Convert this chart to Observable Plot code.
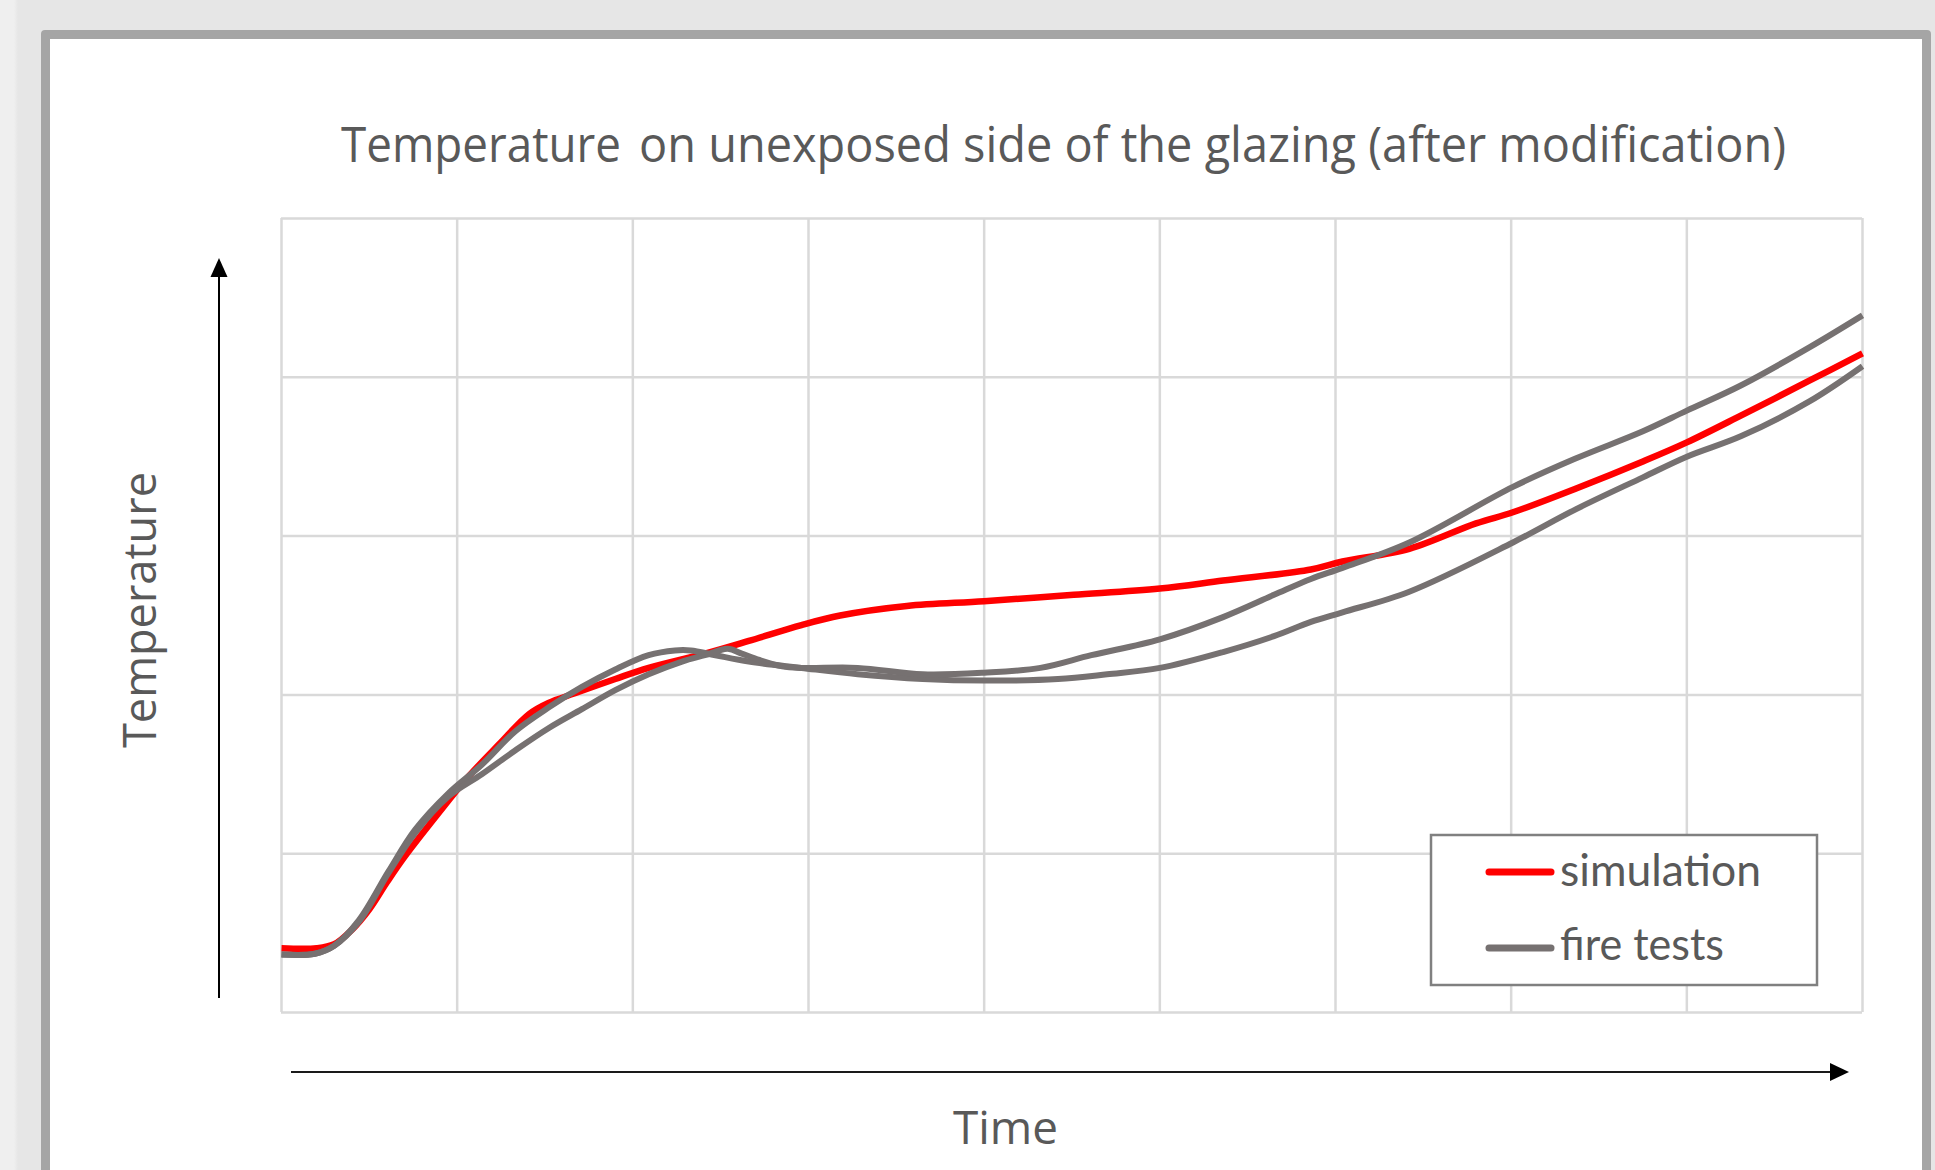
<!DOCTYPE html>
<html>
<head>
<meta charset="utf-8">
<script src="https://cdn.jsdelivr.net/npm/d3@7"></script>
<script src="https://cdn.jsdelivr.net/npm/@observablehq/plot@0.6"></script>
<style>
  html, body { margin: 0; padding: 0; width: 1935px; height: 1170px; overflow: hidden; }
  body { background: linear-gradient(to right, #efefef 0px, #efefef 14px, #e6e6e6 18px, #e6e6e6 100%); position: relative; }
  #panel { position: absolute; left: 41px; top: 30px; width: 1890px; height: 1200px; box-sizing: border-box;
           border: 9.5px solid #a5a5a5; border-radius: 4px; background: #ffffff; }
  #chart { position: absolute; left: 0; top: 0; }
  #deco { position: absolute; left: 0; top: 0; }
</style>
</head>
<body>
<div id="panel"></div>
<div id="chart"></div>
<svg id="deco" width="1935" height="1170" xmlns="http://www.w3.org/2000/svg"></svg>
<script>
// ---- data (x in time grid units, y in temperature grid units) ----
const xGrid = [0, 1, 2, 3, 4, 5, 6, 7, 8, 9];
const yGrid = [0, 1, 2, 3, 4, 5];

const simX = [0, 0.2, 0.3, 0.4, 0.5, 0.6, 0.7, 0.89, 1.06, 1.24, 1.41, 1.52, 1.67, 1.9, 2.09, 2.41, 2.66, 2.96, 3.18, 3.56, 4.0, 4.51, 5.0, 5.36, 5.86, 6.04, 6.42, 6.8, 7.01, 7.37, 7.75, 8.0, 8.31, 8.7, 9.0];
const simY = [0.405, 0.405, 0.43, 0.52, 0.65, 0.82, 0.98, 1.25, 1.48, 1.69, 1.88, 1.95, 2.01, 2.10, 2.17, 2.26, 2.34, 2.44, 2.50, 2.56, 2.59, 2.63, 2.67, 2.72, 2.79, 2.84, 2.92, 3.08, 3.15, 3.30, 3.47, 3.59, 3.76, 3.98, 4.15];

const test1X = [0, 0.19, 0.3, 0.44, 0.61, 0.76, 0.95, 1.14, 1.33, 1.52, 1.71, 1.9, 2.09, 2.24, 2.33, 2.47, 2.66, 2.96, 3.28, 3.65, 4.0, 4.42, 4.7, 5.0, 5.36, 5.65, 5.86, 6.04, 6.42, 7.01, 7.37, 7.75, 8.0, 8.31, 8.7, 9.0];
const test1Y = [0.365, 0.37, 0.42, 0.58, 0.89, 1.15, 1.38, 1.56, 1.77, 1.92, 2.05, 2.16, 2.25, 2.28, 2.28, 2.25, 2.21, 2.17, 2.13, 2.10, 2.09, 2.10, 2.13, 2.17, 2.27, 2.37, 2.46, 2.52, 2.65, 2.96, 3.17, 3.37, 3.50, 3.63, 3.85, 4.07];

const test2X = [0, 0.19, 0.3, 0.44, 0.61, 0.76, 0.95, 1.14, 1.33, 1.52, 1.71, 1.9, 2.09, 2.28, 2.41, 2.54, 2.62, 2.72, 2.85, 2.96, 3.28, 3.65, 4.0, 4.32, 4.61, 5.0, 5.36, 5.65, 5.86, 6.04, 6.42, 7.01, 7.37, 7.75, 8.0, 8.31, 8.7, 9.0];
const test2Y = [0.365, 0.37, 0.42, 0.57, 0.88, 1.13, 1.36, 1.50, 1.65, 1.79, 1.91, 2.03, 2.13, 2.21, 2.25, 2.29, 2.26, 2.22, 2.18, 2.17, 2.17, 2.13, 2.14, 2.17, 2.25, 2.35, 2.49, 2.63, 2.73, 2.80, 2.96, 3.31, 3.49, 3.66, 3.79, 3.95, 4.19, 4.39];

const titleWords = ["Temperature", "on unexposed side of the glazing (after modification)"];
const xLabel = "Time";
const yLabel = "Temperature";
const seriesNames = ["simulation", "fire tests"];

const toRows = (xs, ys) => xs.map((x, i) => ({x, y: ys[i]}));
const sim = toRows(simX, simY);
const test1 = toRows(test1X, test1Y);
const test2 = toRows(test2X, test2Y);

const RED = "#ff0000", GREY = "#767171", GRID = "#d9d9d9";

const plot = Plot.plot({
  width: 1935, height: 1170,
  marginLeft: 281, marginRight: 73, marginTop: 218, marginBottom: 158,
  style: {background: "transparent"},
  x: {domain: [0, 9], axis: null},
  y: {domain: [0, 5], axis: null},
  marks: [
    Plot.gridX(xGrid, {stroke: GRID, strokeOpacity: 1, strokeWidth: 2.5}),
    Plot.gridY(yGrid, {stroke: GRID, strokeOpacity: 1, strokeWidth: 2.5}),
    Plot.line(sim, {x: "x", y: "y", stroke: RED, strokeWidth: 6.5, curve: "catmull-rom", strokeLinecap: "butt"}),
    Plot.line(test1, {x: "x", y: "y", stroke: GREY, strokeWidth: 6, curve: "catmull-rom", strokeLinecap: "butt"}),
    Plot.line(test2, {x: "x", y: "y", stroke: GREY, strokeWidth: 6, curve: "catmull-rom", strokeLinecap: "butt"})
  ]
});
document.getElementById("chart").appendChild(plot);

// ---- decorations: title, axis arrows, labels, legend ----
const deco = d3.select("#deco");
const TXT = "#595959";

// title (two runs: the original has a wider gap after the first word)
[[titleWords[0], 341, 280], [titleWords[1], 639, 1147]].forEach(([t, x, len]) => {
  deco.append("text")
    .attr("x", x).attr("y", 162)
    .attr("textLength", len).attr("lengthAdjust", "spacingAndGlyphs")
    .attr("font-family", "'Open Sans', sans-serif").attr("font-size", 49)
    .attr("fill", TXT).text(t);
});

// y arrow
deco.append("line").attr("x1", 219).attr("y1", 998).attr("x2", 219).attr("y2", 272)
  .attr("stroke", "#000").attr("stroke-width", 2);
deco.append("polygon").attr("points", "219,258 210.5,277 227.5,277").attr("fill", "#000");
// x arrow
deco.append("line").attr("x1", 291).attr("y1", 1072).attr("x2", 1835).attr("y2", 1072)
  .attr("stroke", "#1a1a1a").attr("stroke-width", 2.2);
deco.append("polygon").attr("points", "1849,1072 1830,1063 1830,1081").attr("fill", "#000");

deco.append("text")
  .attr("transform", "translate(156,610) rotate(-90)")
  .attr("text-anchor", "middle")
  .attr("textLength", 276).attr("lengthAdjust", "spacingAndGlyphs")
  .attr("font-family", "'Open Sans', sans-serif").attr("font-size", 46)
  .attr("fill", TXT).text(yLabel);

deco.append("text")
  .attr("x", 953).attr("y", 1144)
  .attr("textLength", 105).attr("lengthAdjust", "spacingAndGlyphs")
  .attr("font-family", "'Open Sans', sans-serif").attr("font-size", 45)
  .attr("fill", TXT).text(xLabel);

// legend
deco.append("rect").attr("x", 1431).attr("y", 835).attr("width", 386).attr("height", 150)
  .attr("fill", "#fff").attr("stroke", "#808080").attr("stroke-width", 2.5);
const legendItems = [
  {name: seriesNames[0], color: RED, y: 872, base: 886, len: 201},
  {name: seriesNames[1], color: GREY, y: 948, base: 960, len: 164}
];
legendItems.forEach(d => {
  deco.append("line").attr("x1", 1489).attr("x2", 1551).attr("y1", d.y).attr("y2", d.y)
    .attr("stroke", d.color).attr("stroke-width", 7).attr("stroke-linecap", "round");
  deco.append("text").attr("x", 1560).attr("y", d.base)
    .attr("textLength", d.len).attr("lengthAdjust", "spacingAndGlyphs")
    .attr("font-family", "Lato, sans-serif").attr("font-size", 44)
    .attr("fill", TXT).text(d.name);
});
</script>
</body>
</html>
